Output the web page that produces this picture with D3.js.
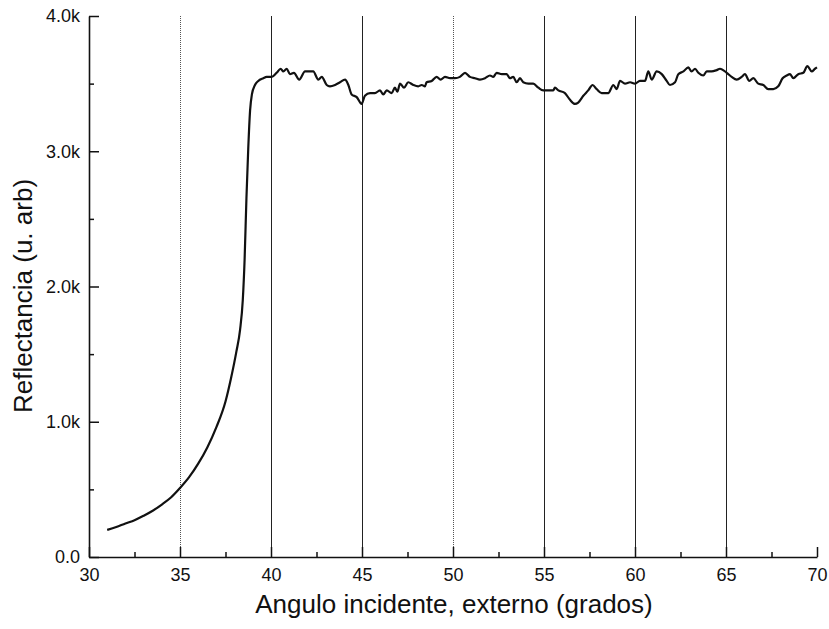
<!DOCTYPE html>
<html>
<head>
<meta charset="utf-8">
<script src="https://cdn.jsdelivr.net/npm/d3@7"></script>
<style>
  html, body { margin: 0; padding: 0; background: #fff; }
  svg { display: block; font-family: "Liberation Sans", Arial, sans-serif; }
</style>
</head>
<body>
<svg id="chart" width="829" height="629"></svg>
<script>
// ---- data ----
const angle = [
  31.0, 31.5, 32.0, 32.5, 33.0, 33.5, 34.0, 34.5, 35.0, 35.5, 36.0, 36.5, 37.0, 37.5, 37.8, 38.1, 38.3, 38.45,
  38.55, 38.65, 38.75, 38.85, 38.95, 39.12, 39.30, 39.58, 39.76, 40.04, 40.31, 40.53, 40.68, 40.86, 41.04, 41.26,
  41.55, 41.87, 42.14, 42.32, 42.60, 42.79, 43.06, 43.24, 43.52, 43.79, 44.07, 44.25, 44.43, 44.71, 44.98, 45.16,
  45.44, 45.71, 45.99, 46.17, 46.36, 46.63, 46.81, 46.94, 47.09, 47.31, 47.54, 47.82, 48.09, 48.28, 48.46, 48.55,
  48.83, 49.10, 49.32, 49.56, 49.84, 50.11, 50.38, 50.66, 50.93, 51.21, 51.48, 51.76, 52.03, 52.21, 52.40, 52.68,
  52.95, 53.13, 53.31, 53.50, 53.68, 53.86, 54.14, 54.41, 54.69, 54.96, 55.24, 55.51, 55.60, 55.79, 56.15, 56.43,
  56.70, 56.88, 57.16, 57.43, 57.67, 57.89, 58.17, 58.53, 58.81, 58.99, 59.18, 59.45, 59.73, 60.00, 60.27, 60.55,
  60.73, 60.92, 61.19, 61.47, 61.74, 61.92, 62.20, 62.38, 62.66, 62.93, 63.11, 63.30, 63.48, 63.75, 63.94, 64.21,
  64.49, 64.67, 65.04, 65.31, 65.59, 65.86, 66.04, 66.28, 66.50, 66.77, 67.05, 67.32, 67.60, 67.87, 68.11, 68.33,
  68.52, 68.70, 68.97, 69.25, 69.47, 69.71, 69.89, 70.0
];
const reflectance = [
  200, 222, 248, 272, 305, 342, 388, 440, 510, 590, 690, 810, 960, 1150, 1320, 1520, 1680, 1900,
  2200, 2650, 3020, 3300, 3420, 3490, 3520, 3540, 3550, 3550, 3580, 3610, 3590, 3610, 3570, 3580,
  3530, 3590, 3590, 3590, 3530, 3550, 3490, 3480, 3490, 3510, 3530, 3490, 3420, 3400, 3350, 3410,
  3430, 3430, 3450, 3420, 3450, 3430, 3470, 3440, 3500, 3470, 3510, 3490, 3480, 3490, 3480, 3510,
  3520, 3550, 3530, 3550, 3540, 3540, 3550, 3580, 3550, 3540, 3530, 3540, 3560, 3550, 3580, 3570,
  3570, 3540, 3550, 3510, 3540, 3510, 3500, 3500, 3470, 3450, 3450, 3450, 3470, 3450, 3430, 3380,
  3350, 3360, 3410, 3450, 3490, 3460, 3430, 3430, 3490, 3460, 3520, 3500, 3510, 3500, 3520, 3520,
  3590, 3530, 3590, 3570, 3520, 3490, 3510, 3570, 3590, 3620, 3590, 3610, 3580, 3560, 3590, 3590,
  3600, 3610, 3580, 3550, 3530, 3550, 3570, 3520, 3540, 3500, 3490, 3460, 3460, 3480, 3540, 3560,
  3570, 3540, 3570, 3580, 3630, 3590, 3610, 3620
];
const xTicks = [30, 35, 40, 45, 50, 55, 60, 65, 70];
const xMinorTicks = [32.5, 37.5, 42.5, 47.5, 52.5, 57.5, 62.5, 67.5];
const yTicks = [0, 1000, 2000, 3000, 4000];
const yTickLabels = ["0.0", "1.0k", "2.0k", "3.0k", "4.0k"];
const yMinorTicks = [500, 1500, 2500, 3500];
const gridLines = [35, 40, 45, 50, 55, 60, 65];
const dottedGrid = [35, 50];
const xTitle = "Angulo incidente, externo (grados)";
const yTitle = "Reflectancia (u. arb)";

// ---- layout ----
const svg = d3.select("#chart");
const x = d3.scaleLinear().domain([30, 70]).range([89, 817]);
const y = d3.scaleLinear().domain([0, 4000]).range([557, 16]);

// vertical reference lines
svg.append("g").selectAll("line").data(gridLines).join("line")
  .attr("x1", d => Math.round(x(d)) + 0.5).attr("x2", d => Math.round(x(d)) + 0.5)
  .attr("y1", y(4000)).attr("y2", y(0))
  .attr("stroke", d => dottedGrid.includes(d) ? "#555" : "#222")
  .attr("stroke-width", 1)
  .attr("stroke-dasharray", d => dottedGrid.includes(d) ? "1,1" : null);

// axes
const xAxis = d3.axisBottom(x).tickValues(xTicks).tickSize(-10).tickSizeOuter(0).tickPadding(11)
  .tickFormat(d3.format("d"));
const yAxis = d3.axisLeft(y).tickValues(yTicks).tickSize(-10).tickSizeOuter(0).tickPadding(9)
  .tickFormat(d => yTickLabels[yTicks.indexOf(d)]);

const gx = svg.append("g").attr("transform", `translate(0,${y(0)})`).call(xAxis);
const gy = svg.append("g").attr("transform", `translate(${x(30)},0)`).call(yAxis);

svg.append("g").attr("transform", `translate(0,${y(0)})`)
  .call(d3.axisBottom(x).tickValues(xMinorTicks).tickSize(-5).tickSizeOuter(0).tickFormat(""))
  .call(g => g.select(".domain").remove());
svg.append("g").attr("transform", `translate(${x(30)},0)`)
  .call(d3.axisLeft(y).tickValues(yMinorTicks).tickSize(-5).tickSizeOuter(0).tickFormat(""))
  .call(g => g.select(".domain").remove());

svg.selectAll(".domain").attr("stroke", "#111").attr("stroke-width", 1.6);
svg.selectAll(".tick line").attr("stroke", "#111").attr("stroke-width", 1.5);
[gx, gy].forEach(g => g.selectAll("text")
  .attr("font-family", "'Liberation Sans', Arial, sans-serif")
  .attr("font-size", 18).attr("fill", "#111"));

// data line
const line = d3.line()
  .x((d, i) => x(angle[i]))
  .y((d, i) => y(reflectance[i]))
  .curve(d3.curveMonotoneX);
svg.append("path")
  .attr("d", line(angle))
  .attr("fill", "none")
  .attr("stroke", "#111")
  .attr("stroke-width", 2.2)
  .attr("stroke-linejoin", "round");

// titles
svg.append("text")
  .attr("x", 454).attr("y", 613)
  .attr("text-anchor", "middle")
  .attr("font-size", 26).attr("fill", "#111")
  .text(xTitle);
svg.append("text")
  .attr("transform", "translate(32,296) rotate(-90)")
  .attr("text-anchor", "middle")
  .attr("font-size", 26).attr("fill", "#111")
  .text(yTitle);
</script>
</body>
</html>
